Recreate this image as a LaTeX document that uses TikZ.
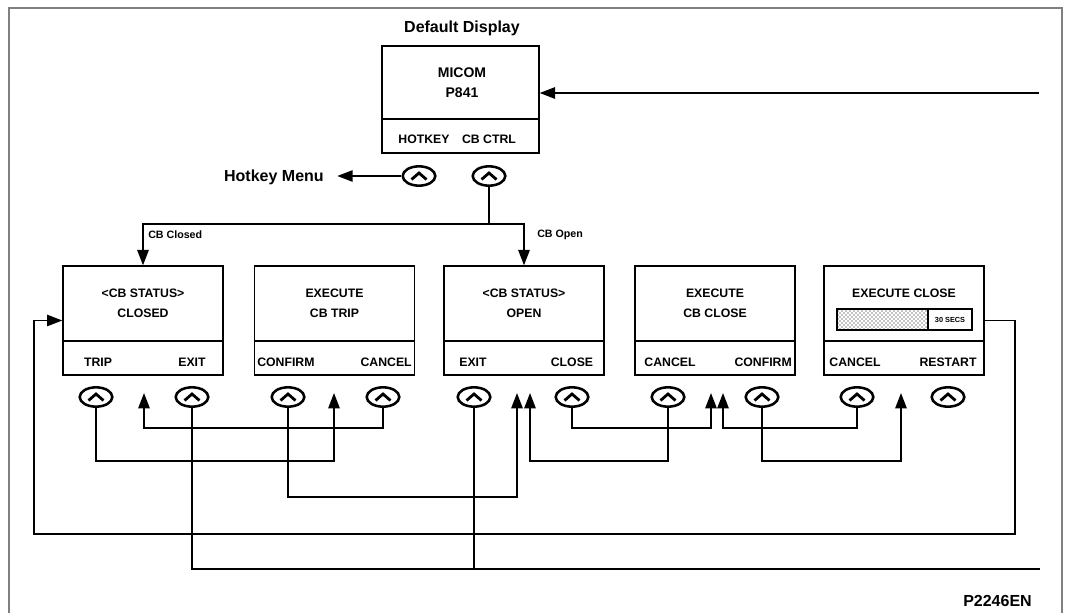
\documentclass[tikz,border=0pt]{standalone}
\usepackage{fontspec}
\setmainfont{Liberation Sans}
\usetikzlibrary{shapes.geometric,arrows.meta,patterns}
\begin{document}
\begin{tikzpicture}[x=0.75pt,y=-0.75pt,
  box/.style={draw,line width=1pt,minimum width=120pt,minimum height=81.75pt,inner sep=0pt},
  btn/.style={draw,ellipse,line width=1.9pt,minimum width=24.5pt,minimum height=14.5pt,inner sep=0pt,
    path picture={\draw[line width=2.1pt,miter limit=10]
      ([shift={(-7.5,3.5)}]path picture bounding box.center) --
      ([shift={(0,-3)}]path picture bounding box.center) --
      ([shift={(7.5,3.5)}]path picture bounding box.center);}},
  txt/.style={font=\bfseries\fontsize{9.2}{10}\selectfont,inner sep=0pt},
  big/.style={font=\bfseries\fontsize{12}{14}\selectfont,inner sep=0pt},
  mid/.style={font=\bfseries\fontsize{10.5}{12}\selectfont,inner sep=0pt},
  small/.style={font=\bfseries\fontsize{8}{9}\selectfont,inner sep=0pt},
  conn/.style={line width=1.3pt},
  arr/.style={conn,-{Triangle[length=11.5pt,width=8.5pt]}}
]
\useasboundingbox (0,0) rectangle (1068,613);
% frame
\draw[line width=1.6pt,color={rgb,255:red,128;green,128;blue,128}] (9,613) -- (9,8) -- (1062,8) -- (1062,613);

% default display
\node[big] (dd) at (462,28) {Default Display};
\node[draw,line width=1pt,minimum width=117.75pt,minimum height=80.25pt,inner sep=0pt] (mic) at (460.5,99.5) {};
\draw[line width=1pt] (mic.west |- 0,119) -- (mic.east |- 0,119);
\node[mid] (m1) at (462,73) {MICOM};
\node[mid] (m2) at (462,93) {P841};
\node[txt] (m3) at (424,139) {HOTKEY};
\node[txt] (m4) at (489,139) {CB CTRL};
\node[btn] (hk1) at (419,176) {};
\node[btn] (hk2) at (489,176) {};
\node[big,anchor=east] (hkm) at (324,177) {Hotkey Menu};

% display boxes
\foreach \n/\cx in {b1/143,b2/334.5,b3/524,b4/715,b5/904}{
  \node[box] (\n) at (\cx,320.5) {};
  \draw[line width=1pt] (\n.west |- 0,341) -- (\n.east |- 0,341);
}
\node[txt] (t1a) at (143,293) {<CB STATUS>};
\node[txt] (t1b) at (143,313) {CLOSED};
\node[txt] (t1c) at (98,362) {TRIP};
\node[txt] (t1d) at (192,362) {EXIT};
\node[txt] (t2a) at (334.5,293) {EXECUTE};
\node[txt] (t2b) at (334.5,313) {CB TRIP};
\node[txt,anchor=west] (t2c) at (257,362) {CONFIRM};
\node[txt,anchor=east] (t2d) at (412,362) {CANCEL};
\node[txt] (t3a) at (524,293) {<CB STATUS>};
\node[txt] (t3b) at (524,313) {OPEN};
\node[txt] (t3c) at (473,362) {EXIT};
\node[txt] (t3d) at (572,362) {CLOSE};
\node[txt] (t4a) at (715,293) {EXECUTE};
\node[txt] (t4b) at (715,313) {CB CLOSE};
\node[txt] (t4c) at (670,362) {CANCEL};
\node[txt,anchor=east] (t4d) at (792,362) {CONFIRM};
\node[txt] (t5a) at (904,293) {EXECUTE CLOSE};
\node[txt] (t5c) at (855,362) {CANCEL};
\node[txt] (t5d) at (948,362) {RESTART};
% timer bar
\draw[line width=0.9pt] (837,309) rectangle (972,330);
\fill[pattern=crosshatch dots] (837,309) rectangle (928,330);
\draw[line width=1.7pt] (837,309) rectangle (928,330);
\node[font=\bfseries\fontsize{5.5}{6}\selectfont,inner sep=0pt] (secs) at (950,319.5) {30 SECS};

% buttons
\foreach \n/\x in {k1/96,k2/192,k3/288,k4/383,k5/474,k6/572,k7/668,k8/762,k9/857,k10/948}{
  \node[btn] (\n) at (\x,397) {};
}

% lanes and arrow tips
\coordinate (L428) at (0,428);
\coordinate (L461) at (0,461);
\coordinate (L497) at (0,497);
\coordinate (L534) at (0,534);
\coordinate (L569) at (0,569);
\coordinate (a1) at (144,393);
\coordinate (a2) at (334,393);
\coordinate (a3) at (517,393);
\coordinate (a6) at (711,393);
\coordinate (a7) at (530,393);
\coordinate (a8) at (723,393);
\coordinate (a9) at (901,393);
\coordinate (rin) at (1039,93);
\coordinate (rout) at (1040,569);
\coordinate (split) at (489,224);
\coordinate (c10a) at (1015,534);
\coordinate (c10b) at (34,320.5);

% top connectors
\draw[arr] (rin) -- (mic.east |- rin);
\draw[arr,shorten >=10pt] (hk1.west) -- (hk1.west -| hkm.east);
\draw[conn] (hk2.south) -- (split);
\draw[arr] (split) -| (b1.north);
\draw[arr] (split) -| (b3.north);
\node[small,anchor=west] (lcl) at (148,235) {CB Closed};
\node[small,anchor=west] (lop) at (537,235) {CB Open};

% button connectors
\draw[arr] (k4.south) |- (a1 |- L428) -- (a1);
\draw[arr] (k1.south) |- (a2 |- L461) -- (a2);
\draw[arr] (k3.south) |- (a3 |- L497) -- (a3);
\draw[arr] (k6.south) |- (a6 |- L428) -- (a6);
\draw[arr] (k7.south) |- (a7 |- L461) -- (a7);
\draw[arr] (k9.south) |- (a8 |- L428) -- (a8);
\draw[arr] (k8.south) |- (a9 |- L461) -- (a9);
\draw[conn] (k2.south) |- (rout);
\draw[conn] (k5.south) -- (k5.south |- L569);
\draw[arr] (b5.east) -| (c10a) -| (c10b) -- (b1.west);

\node[big,anchor=west] (ref) at (963,601) {P2246EN};
\end{tikzpicture}
\end{document}
